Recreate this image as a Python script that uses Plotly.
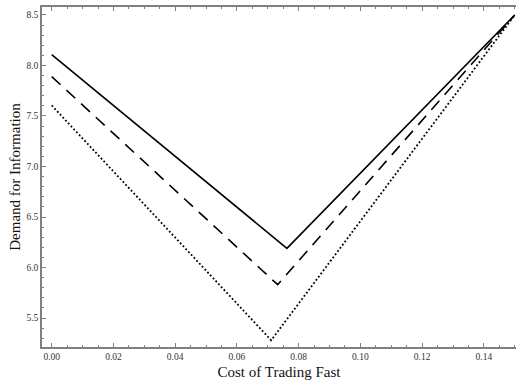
import plotly.graph_objects as go

cost = [0.0, 0.0762, 0.15]
solid_demand = [8.107, 6.19, 8.5]
cost_dashed = [0.0, 0.0732, 0.15]
dashed_demand = [7.89, 5.83, 8.5]
cost_dotted = [0.0, 0.0711, 0.15]
dotted_demand = [7.605, 5.28, 8.5]

x_ticks = [0.00, 0.02, 0.04, 0.06, 0.08, 0.10, 0.12, 0.14]
x_labels = ["0.00", "0.02", "0.04", "0.06", "0.08", "0.10", "0.12", "0.14"]
y_ticks = [5.5, 6.0, 6.5, 7.0, 7.5, 8.0, 8.5]
y_labels = ["5.5", "6.0", "6.5", "7.0", "7.5", "8.0", "8.5"]

fig = go.Figure()
fig.add_trace(go.Scatter(x=cost, y=solid_demand, mode="lines",
                         line=dict(color="black", width=1.6)))
fig.add_trace(go.Scatter(x=cost_dashed, y=dashed_demand, mode="lines",
                         line=dict(color="black", width=1.6, dash="12px,8px")))
fig.add_trace(go.Scatter(x=cost_dotted, y=dotted_demand, mode="lines",
                         line=dict(color="black", width=1.8, dash="1.8px,2.2px")))

axis_color = "#808080"
fig.update_layout(
    width=516, height=385,
    margin=dict(l=42, r=0, t=7, b=38),
    plot_bgcolor="white", paper_bgcolor="white",
    showlegend=False,
    font=dict(family="Liberation Serif", color="#222"),
    xaxis=dict(
        range=[-0.00314, 0.1504], tickvals=x_ticks, ticktext=x_labels,
        ticks="inside", ticklen=4, tickcolor=axis_color, tickwidth=1,
        showline=True, linecolor=axis_color, linewidth=1.5, mirror="ticks",
        showgrid=False, zeroline=False,
        tickfont=dict(size=9.5, family="Liberation Serif", color="#333"),
        minor=dict(dtick=0.005, tick0=0, ticks="inside", ticklen=2, tickcolor=axis_color, showgrid=False),
        title=dict(text="Cost of Trading Fast", font=dict(size=15, family="Liberation Serif", color="#111"), standoff=5),
    ),
    yaxis=dict(
        range=[5.213, 8.579], tickvals=y_ticks, ticktext=y_labels,
        ticks="inside", ticklen=4, tickcolor=axis_color, tickwidth=1,
        showline=True, linecolor=axis_color, linewidth=1.5, mirror=False,
        showgrid=False, zeroline=False,
        tickfont=dict(size=9.5, family="Liberation Serif", color="#333"),
        minor=dict(dtick=0.1, tick0=5.5, ticks="inside", ticklen=2, tickcolor=axis_color, showgrid=False),
        title=dict(text="Demand for Information", font=dict(size=15, family="Liberation Serif", color="#111"), standoff=2),
    ),
)

fig.write_html("out.html")
